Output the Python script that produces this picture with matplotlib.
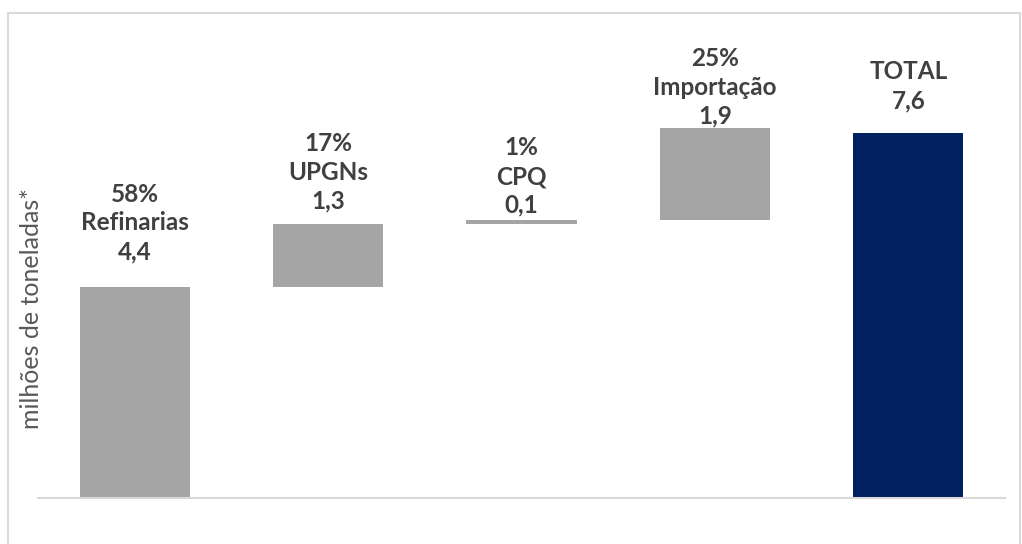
import matplotlib.pyplot as plt
from matplotlib.patches import Rectangle
import numpy as np

# Fontes de GLP (milhões de toneladas)
categorias = ["Refinarias", "UPGNs", "CPQ", "Importação", "TOTAL"]
valores = [4.4, 1.3, 0.1, 1.9]
total = 7.6
percentuais = ["58%", "17%", "1%", "25%", None]

cinza = "#a5a5a5"
azul = "#002060"
cor_texto = "#404040"

plt.rcParams["font.family"] = ["Lato", "DejaVu Sans"]

fig = plt.figure(figsize=(10.22, 5.44), dpi=100)
ax = fig.add_axes([38 / 1022, 46 / 544, 967 / 1022, 456 / 544])

x = np.arange(len(categorias))
alturas = valores + [total]
bases = list(np.concatenate([[0], np.cumsum(valores)[:-1]])) + [0]
cores = [cinza] * len(valores) + [azul]

barras = ax.bar(x, alturas, bottom=bases, width=0.57, color=cores)

# rótulos acima de cada barra (deslocamento em pixels a partir do topo)
deslocamentos = [64, 52, 43, 41, 47]
for i, b in enumerate(barras):
    topo = bases[i] + alturas[i]
    num = f"{alturas[i]:.1f}".replace(".", ",")
    if percentuais[i]:
        txt = f"{percentuais[i]}\n{categorias[i]}\n{num}"
    else:
        txt = f"{categorias[i]}\n{num}"
    ax.annotate(txt, xy=(b.get_x() + b.get_width() / 2, topo),
                xytext=(0, deslocamentos[i]), textcoords="offset pixels",
                ha="center", va="center", fontsize=17.5, fontweight="bold",
                color=cor_texto, linespacing=1.3)

ax.set_xlim(-0.5, 4.5)
ax.set_ylim(0, 9.5)
for lado in ["top", "right", "left"]:
    ax.spines[lado].set_visible(False)
ax.spines["bottom"].set_color("#d9d9d9")
ax.spines["bottom"].set_linewidth(1.5)
ax.set_xticks([])
ax.set_yticks([])

ax.set_ylabel("milhões de toneladas*", fontsize=18, color="#595959")
ax.yaxis.set_label_coords(0.005, 0.415)

# moldura do gráfico
fig.patches.append(Rectangle((8 / 1022, -0.05), 1012 / 1022, 1.05 - 13 / 544,
                             transform=fig.transFigure, fill=False,
                             edgecolor="#d9d9d9", linewidth=1.5))

fig.savefig("out.png", dpi=100)
